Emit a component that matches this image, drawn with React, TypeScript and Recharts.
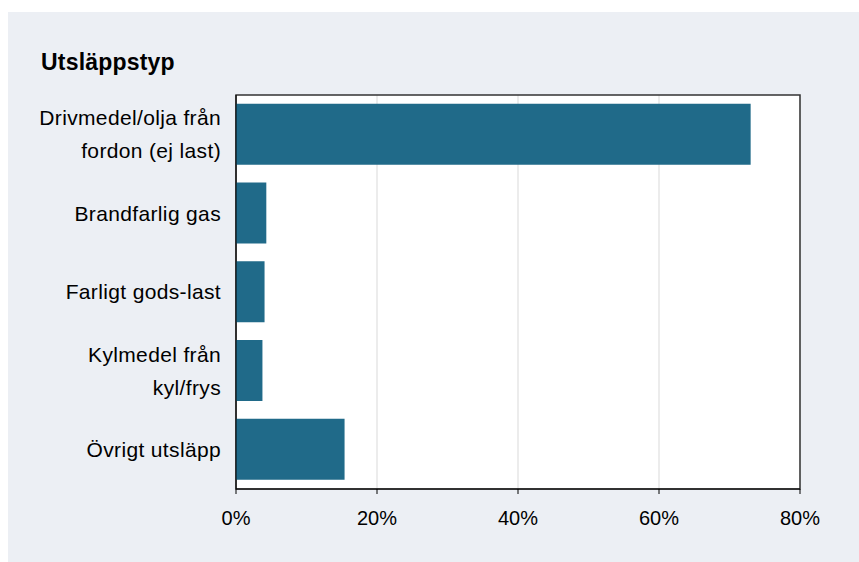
import { Bar, BarChart, CartesianGrid, ReferenceArea, XAxis, YAxis } from 'recharts';

const CATEGORIES = ['Drivmedel/olja från\nfordon (ej last)', 'Brandfarlig gas', 'Farligt gods-last', 'Kylmedel från\nkyl/frys', 'Övrigt utsläpp'];
const SHARES = [73.0, 4.3, 4.05, 3.75, 15.4];
const X_TICKS = [0, 20, 40, 60, 80];

const data = CATEGORIES.map((category, i) => ({ category, share: SHARES[i] }));

const FONT = '"Liberation Sans", Arial, sans-serif';

const CategoryTick = ({ x, y, payload }: any) => {
  const lines = String(payload.value).split('\n');
  const lineHeight = 33;
  const start = -((lines.length - 1) * lineHeight) / 2;
  return (
    <text x={x} y={y} textAnchor="end" fontSize={21} letterSpacing={0.35} fill="#000" fontFamily={FONT}>
      {lines.map((line, i) => (
        <tspan key={i} x={x} y={y + start + i * lineHeight} dy="0.35em">
          {line}
        </tspan>
      ))}
    </text>
  );
};

export default function App() {
  return (
    <div style={{ position: 'fixed', left: 8, top: 12, right: 0, bottom: 0, background: '#eceff4', fontFamily: FONT }}>
      <div style={{ position: 'absolute', left: 33, top: 37, fontSize: 23, fontWeight: 'bold', letterSpacing: 0.2, color: '#000' }}>Utsläppstyp</div>
      <BarChart
        width={851}
        height={550}
        data={data}
        layout="vertical"
        margin={{ top: 83, right: 59, bottom: 21, left: 0 }}
        barCategoryGap="11%"
      >
        <CartesianGrid horizontal={false} stroke="#d9d9d9" fill="#ffffff" />
        <XAxis
          type="number"
          domain={[0, 80]}
          ticks={X_TICKS}
          tickFormatter={(v) => `${v}%`}
          axisLine={{ stroke: '#000' }}
          tickLine={{ stroke: '#000' }}
          tickSize={5}
          tickMargin={17}
          height={52}
          tick={{ fontSize: 20, fill: '#000', fontFamily: FONT }}
        />
        <YAxis
          type="category"
          dataKey="category"
          width={228}
          axisLine={{ stroke: '#000' }}
          tickLine={false}
          tickMargin={9}
          interval={0}
          tick={<CategoryTick />}
        />
        <ReferenceArea x1={0} x2={80} fill="none" stroke="#333" strokeWidth={1.5} ifOverflow="visible" />
        <Bar dataKey="share" fill="#206a89" isAnimationActive={false} />
      </BarChart>
    </div>
  );
}
